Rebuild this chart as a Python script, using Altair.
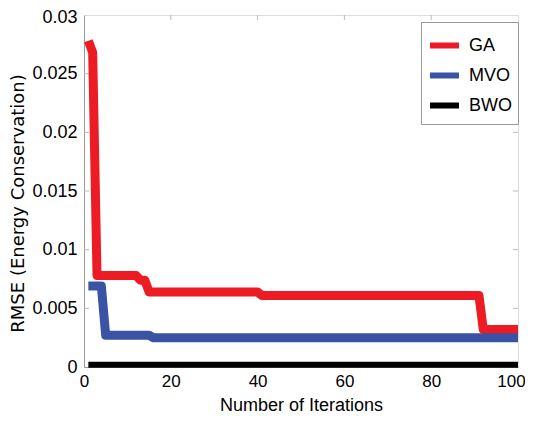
import altair as alt
import pandas as pd

# ---- data ----
ga_x = [1, 2, 3, 12, 13, 14, 15, 40, 41, 91, 92, 100]
ga_y = [0.0278, 0.0268, 0.0078, 0.0078, 0.0074, 0.0074, 0.0064, 0.0064, 0.0061, 0.0061, 0.0032, 0.0032]
mvo_x = [1, 4, 5, 15, 16, 100]
mvo_y = [0.0069, 0.0069, 0.0027, 0.0027, 0.0025, 0.0025]
bwo_x = [1, 100]
bwo_y = [0.0002, 0.0002]

series_names = ["GA", "MVO", "BWO"]
series_colors = ["#ED1C24", "#3A53A4", "#000000"]
x_ticks = [0, 20, 40, 60, 80, 100]
y_ticks = [0, 0.005, 0.01, 0.015, 0.02, 0.025, 0.03]

W, H = 434, 352
FONT = "Liberation Sans, Arial, sans-serif"

rows = []
for name, xs, ys, sw in [("GA", ga_x, ga_y, 9), ("MVO", mvo_x, mvo_y, 9), ("BWO", bwo_x, bwo_y, 6)]:
    for i, (xv, yv) in enumerate(zip(xs, ys)):
        rows.append({"series": name, "iter": xv, "rmse": yv, "order": i, "sw": sw})
df = pd.DataFrame(rows)

xscale = alt.Scale(domain=[0, 100], nice=False)
yscale = alt.Scale(domain=[0, 0.03], nice=False)

lines = alt.Chart(df).mark_line(strokeJoin="round").encode(
    x=alt.X("iter:Q", scale=xscale,
            axis=alt.Axis(values=x_ticks, title="Number of Iterations", ticks=False,
                          grid=False, labelFont=FONT, labelFontSize=17, labelPadding=6,
                          labelOffset={"condition": {"test": "datum.value >= 99", "value": -7}, "value": 0},
                          labelColor="black", titleFont=FONT, titleFontSize=18,
                          titleFontWeight="normal", titlePadding=7, titleColor="black",
                          domainColor="#999999", labelFlush=False)),
    y=alt.Y("rmse:Q", scale=yscale,
            axis=alt.Axis(values=y_ticks, format="~g", title="RMSE (Energy Conservation)",
                          ticks=False, grid=False, labelFont=FONT, labelFontSize=18,
                          labelPadding=7, labelColor="black", titleFont="DejaVu Sans",
                          labelOffset={"condition": {"test": "datum.value >= 0.029", "value": 2}, "value": 0},
                          titleFontSize=18, titleFontWeight="normal",
                          titleX=-66, titleY=H / 2 + 12, titleAlign="center",
                          titleBaseline="middle", titleAngle=270,
                          titleColor="black", domainColor="#999999", labelFlush=False)),
    color=alt.Color("series:N",
                    scale=alt.Scale(domain=series_names, range=series_colors),
                    legend=alt.Legend(title=None, orient="none", legendX=337, legendY=7,
                                      symbolType="stroke", symbolStrokeWidth=6,
                                      symbolSize=841, labelFont=FONT,
                                      labelFontSize=18, labelColor="black",
                                      strokeColor="#999999", fillColor="white",
                                      padding=6, rowPadding=0, labelOffset=7)),
    strokeWidth=alt.StrokeWidth("sw:Q", scale=None, legend=None),
    order="order:Q",
)

tdf_x = pd.DataFrame({"t": x_ticks[1:-1]})
tdf_y = pd.DataFrame({"t": y_ticks[1:-1]})
tick_col = "#bbbbbb"
bottom_ticks = alt.Chart(tdf_x).mark_rule(color=tick_col).encode(
    x=alt.X("t:Q", scale=xscale), y=alt.value(H), y2=alt.value(H - 5))
top_ticks = alt.Chart(tdf_x).mark_rule(color=tick_col).encode(
    x=alt.X("t:Q", scale=xscale), y=alt.value(0), y2=alt.value(5))
left_ticks = alt.Chart(tdf_y).mark_rule(color=tick_col).encode(
    y=alt.Y("t:Q", scale=yscale), x=alt.value(0), x2=alt.value(5))
right_ticks = alt.Chart(tdf_y).mark_rule(color=tick_col).encode(
    y=alt.Y("t:Q", scale=yscale), x=alt.value(W), x2=alt.value(W - 5))

chart = alt.layer(bottom_ticks, top_ticks, left_ticks, right_ticks, lines).properties(
    width=W, height=H,
    autosize=alt.AutoSizeParams(type="none"),
    padding={"left": 76, "top": 7, "right": 7, "bottom": 50},
).configure_view(stroke="#999999", strokeWidth=1).configure(background="white")

chart.save("out.html", embed_options={"renderer": "svg", "actions": False})
